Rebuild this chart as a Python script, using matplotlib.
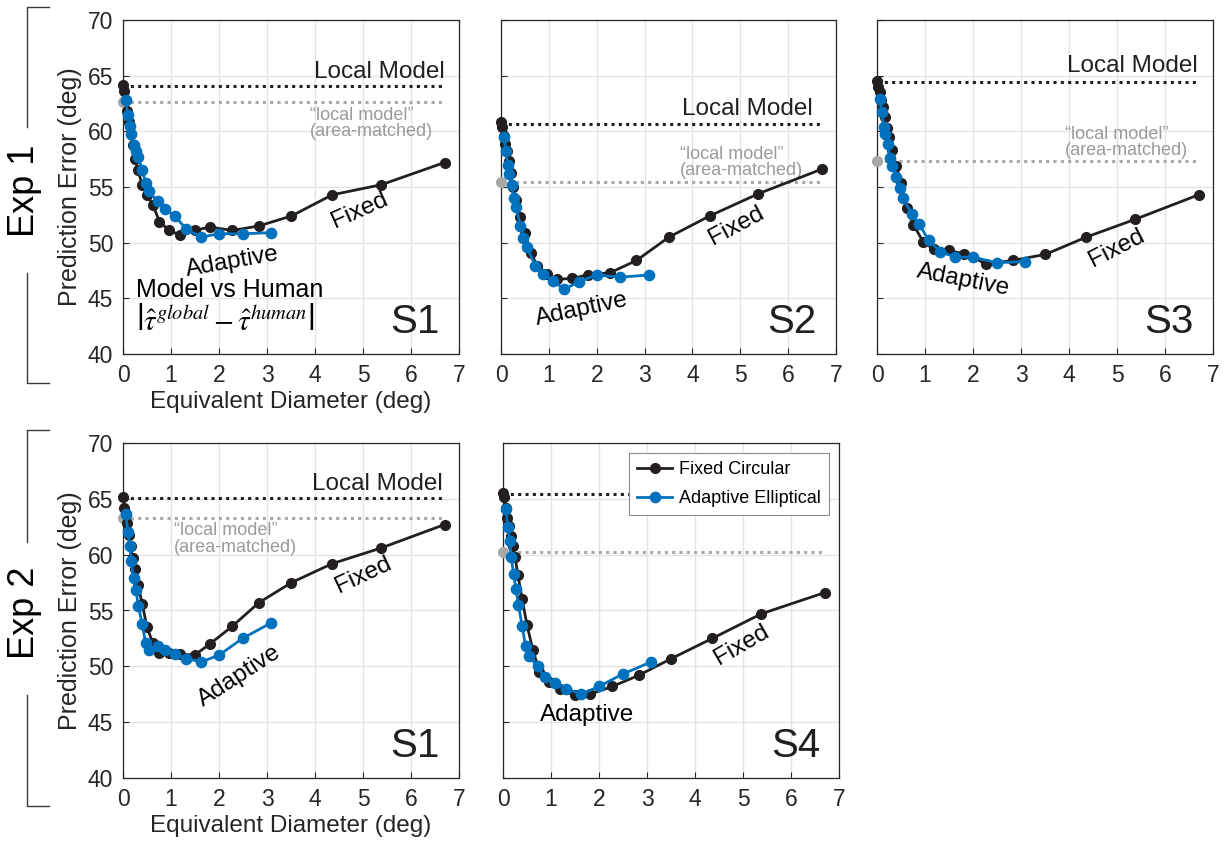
import matplotlib
matplotlib.use("Agg")
import matplotlib.pyplot as plt
from matplotlib.lines import Line2D

plt.rcParams['font.family'] = ['Liberation Sans', 'DejaVu Sans']

# equivalent diameters (deg) of the two window types
fixed_x = [0.0, 0.03, 0.06, 0.09, 0.12, 0.16, 0.20, 0.25, 0.31, 0.40, 0.50, 0.62,
           0.76, 0.96, 1.18, 1.49, 1.81, 2.28, 2.83, 3.51, 4.36, 5.38, 6.70]
adapt_x = [0.06, 0.10, 0.14, 0.17, 0.22, 0.27, 0.32, 0.40, 0.47, 0.54, 0.72, 0.87,
           1.08, 1.32, 1.63, 2.00, 2.49, 3.09]

# prediction error (deg), fixed circular windows
fixed_e1s1 = [64.2, 63.6, 62.8, 61.8, 60.8, 59.8, 58.8, 57.5, 56.5, 55.2, 54.3, 53.4,
              51.9, 51.1, 50.7, 51.1, 51.4, 51.1, 51.5, 52.4, 54.3, 55.2, 57.2]
fixed_e1s2 = [60.8, 60.4, 59.6, 58.9, 58.2, 57.3, 56.3, 55.0, 53.8, 52.3, 50.9, 49.1,
              47.9, 47.2, 46.7, 46.8, 47.1, 47.3, 48.4, 50.5, 52.4, 54.4, 56.6]
fixed_e1s3 = [64.5, 64.0, 63.5, 62.8, 62.2, 61.3, 60.3, 59.5, 58.3, 56.9, 55.4, 53.1,
              51.6, 50.1, 49.4, 49.3, 49.0, 48.1, 48.4, 48.95, 50.5, 52.1, 54.3]
fixed_e2s1 = [65.2, 64.2, 63.6, 62.8, 61.8, 60.8, 59.7, 58.7, 57.3, 55.6, 53.5, 52.1,
              51.2, 51.2, 51.1, 51.0, 52.0, 53.6, 55.7, 57.5, 59.2, 60.6, 62.7]
fixed_e2s4 = [65.5, 65.2, 64.2, 63.3, 62.6, 61.7, 60.8, 59.8, 58.2, 56.0, 53.7, 51.5,
              49.5, 48.6, 47.95, 47.4, 47.5, 48.2, 49.2, 50.7, 52.5, 54.7, 56.6]

# prediction error (deg), adaptive elliptical windows
adapt_e1s1 = [62.8, 61.5, 60.5, 59.8, 58.8, 58.2, 57.7, 56.5, 55.4, 54.6, 53.7, 53.0,
              52.4, 51.2, 50.5, 50.8, 50.8, 50.9]
adapt_e1s2 = [59.5, 58.2, 57.0, 56.2, 55.2, 54.0, 53.2, 51.5, 50.4, 49.6, 47.9, 47.2,
              46.6, 45.8, 46.5, 47.1, 46.9, 47.1]
adapt_e1s3 = [62.9, 61.7, 60.4, 59.8, 58.9, 57.6, 56.9, 55.9, 54.9, 54.0, 52.6, 51.7,
              50.2, 49.2, 48.7, 48.7, 48.2, 48.3]
adapt_e2s1 = [63.6, 62.0, 60.8, 59.4, 57.9, 56.8, 55.4, 53.8, 52.1, 51.5, 51.8, 51.5,
              51.1, 50.7, 50.4, 51.0, 52.5, 53.9]
adapt_e2s4 = [64.1, 62.5, 61.2, 59.8, 58.3, 56.9, 55.5, 53.6, 51.8, 50.9, 50.0, 49.0,
              48.5, 48.0, 47.5, 48.2, 49.3, 50.4]

# local model and area-matched local model
local_err = [64.1, 60.7, 64.4, 65.1, 65.4]
area_err = [62.6, 55.45, 57.3, 63.3, 60.2]

subjects = ['S1', 'S2', 'S3', 'S1', 'S4']
fixed_all = [fixed_e1s1, fixed_e1s2, fixed_e1s3, fixed_e2s1, fixed_e2s4]
adapt_all = [adapt_e1s1, adapt_e1s2, adapt_e1s3, adapt_e2s1, adapt_e2s4]

BLACK = '#231f20'
BLUE = '#0072bd'
GRAY = '#a8a8a8'

W, H = 1225, 843
fig = plt.figure(figsize=(W / 100, H / 100), dpi=100)

# axes boxes in pixels: left, top, width, height
boxes = [(123, 20, 336, 334), (501, 20, 335, 334), (877, 20, 336, 334),
         (123, 443, 336, 335), (503, 443, 336, 335)]

# label placement per panel (data coords, rotation)
labels = [
    dict(loc=(6.7, 64.75), area=(3.89, 62.2), fixed=(4.93, 52.9, 24), adapt=(2.29, 48.3, 10)),
    dict(loc=(6.52, 61.45), area=(3.74, 58.7), fixed=(4.92, 51.5, 28), adapt=(1.69, 44.0, 12)),
    dict(loc=(6.69, 65.3), area=(3.91, 60.5), fixed=(4.99, 49.5, 27), adapt=(1.79, 46.6, -11)),
    dict(loc=(6.67, 65.75), area=(1.06, 62.9), fixed=(5.0, 58.2, 25), adapt=(2.43, 49.1, 33)),
    dict(loc=None, area=None, fixed=(4.97, 51.9, 30), adapt=(1.75, 45.6, 0)),
]

for i, (l, t, w, h) in enumerate(boxes):
    ax = fig.add_axes([l / W, 1 - (t + h) / H, w / W, h / H])
    ax.set_xlim(0, 7)
    ax.set_ylim(40, 70)
    ax.set_xticks(range(0, 8))
    ax.set_yticks(range(40, 71, 5))
    ax.grid(True, color='#e3e3e3', lw=1.0)
    ax.set_axisbelow(True)
    for s in ax.spines.values():
        s.set_color('#262626')
        s.set_linewidth(0.9)
    ax.tick_params(direction='in', length=4, width=0.8, labelsize=16.5,
                   colors='#262626', pad=7)
    if i not in (0, 3):
        ax.tick_params(labelleft=False)

    lab = labels[i]
    ax.plot([0, 6.7], [local_err[i]] * 2, ls=(0, (1, 1.4)), lw=2.2, color=BLACK, zorder=2)
    ax.plot([0, 6.7], [area_err[i]] * 2, ls=(0, (1, 1.4)), lw=2.2, color=GRAY, zorder=2)
    ax.plot([0], [area_err[i]], 'o', ms=7, color=GRAY, clip_on=False, zorder=3)
    ax.plot(fixed_x, fixed_all[i], '-o', color=BLACK, lw=2, ms=7,
            clip_on=False, zorder=4, label='Fixed Circular')
    ax.plot(adapt_x, adapt_all[i], '-o', color=BLUE, lw=2, ms=7.4,
            clip_on=False, zorder=5, label='Adaptive Elliptical')

    if lab['loc'] is not None:
        ax.text(*lab['loc'], 'Local Model', ha='right', va='baseline',
                fontsize=17.5, color=BLACK)
        ax.text(*lab['area'], '\u201clocal model\u201d\n(area-matched)', ha='left',
                va='top', fontsize=13, color='#9a9a9a', linespacing=0.95)
    fx, fy, fr = lab['fixed']
    ax.text(fx, fy, 'Fixed', ha='center', va='center', rotation=fr,
            rotation_mode='anchor', fontsize=17.5, color='black')
    axx, ayy, ar = lab['adapt']
    ax.text(axx, ayy, 'Adaptive', ha='center', va='center', rotation=ar,
            rotation_mode='anchor', fontsize=17.5, color='black')
    ax.text(6.6, 41.9, subjects[i], ha='right', va='baseline', fontsize=29,
            color=BLACK)

    if i in (0, 3):
        ax.set_xlabel('Equivalent Diameter (deg)', fontsize=17.5, color='#262626',
                      labelpad=3)
        ax.set_ylabel('Prediction Error (deg)', fontsize=18,
                      family=['Liberation Sans Narrow', 'Liberation Sans'],
                      color='#262626', labelpad=4)
    if i == 0:
        ax.text(0.28, 45.75, 'Model vs Human', ha='left', va='center', fontsize=18)
        ax.text(0.28, 43.0,
                r'$\left|\hat{\tau}^{global} - \hat{\tau}^{human}\right|$',
                ha='left', va='center', fontsize=21, math_fontfamily='stix')
    if i == 4:
        leg = ax.legend(loc='upper right', bbox_to_anchor=(0.97, 0.97), fontsize=13,
                        frameon=True, fancybox=False, framealpha=1,
                        edgecolor='#8a8a8a', handlelength=1.9, borderpad=0.45,
                        labelspacing=0.65, handletextpad=0.4, borderaxespad=0)
        leg.get_frame().set_linewidth(0.8)
        leg.set_zorder(10)

# experiment brackets on the left
def bracket(top, seg1, seg2, bottom, label, ymid):
    x0, x1 = 27 / W, 49 / W
    kw = dict(transform=fig.transFigure, color='#3a3a3a', lw=1.0)
    fig.add_artist(Line2D([x1, x0, x0], [1 - top / H, 1 - top / H, 1 - seg1 / H], **kw))
    fig.add_artist(Line2D([x0, x0, x1], [1 - seg2 / H, 1 - bottom / H, 1 - bottom / H], **kw))
    fig.text(25 / W, 1 - ymid / H, label, rotation=90, ha='center', va='center',
             fontsize=26, color='black')

bracket(7, 127, 273, 383, 'Exp 1', 191)
bracket(430, 542, 695, 806, 'Exp 2', 613)

fig.savefig('out.png', dpi=100)
